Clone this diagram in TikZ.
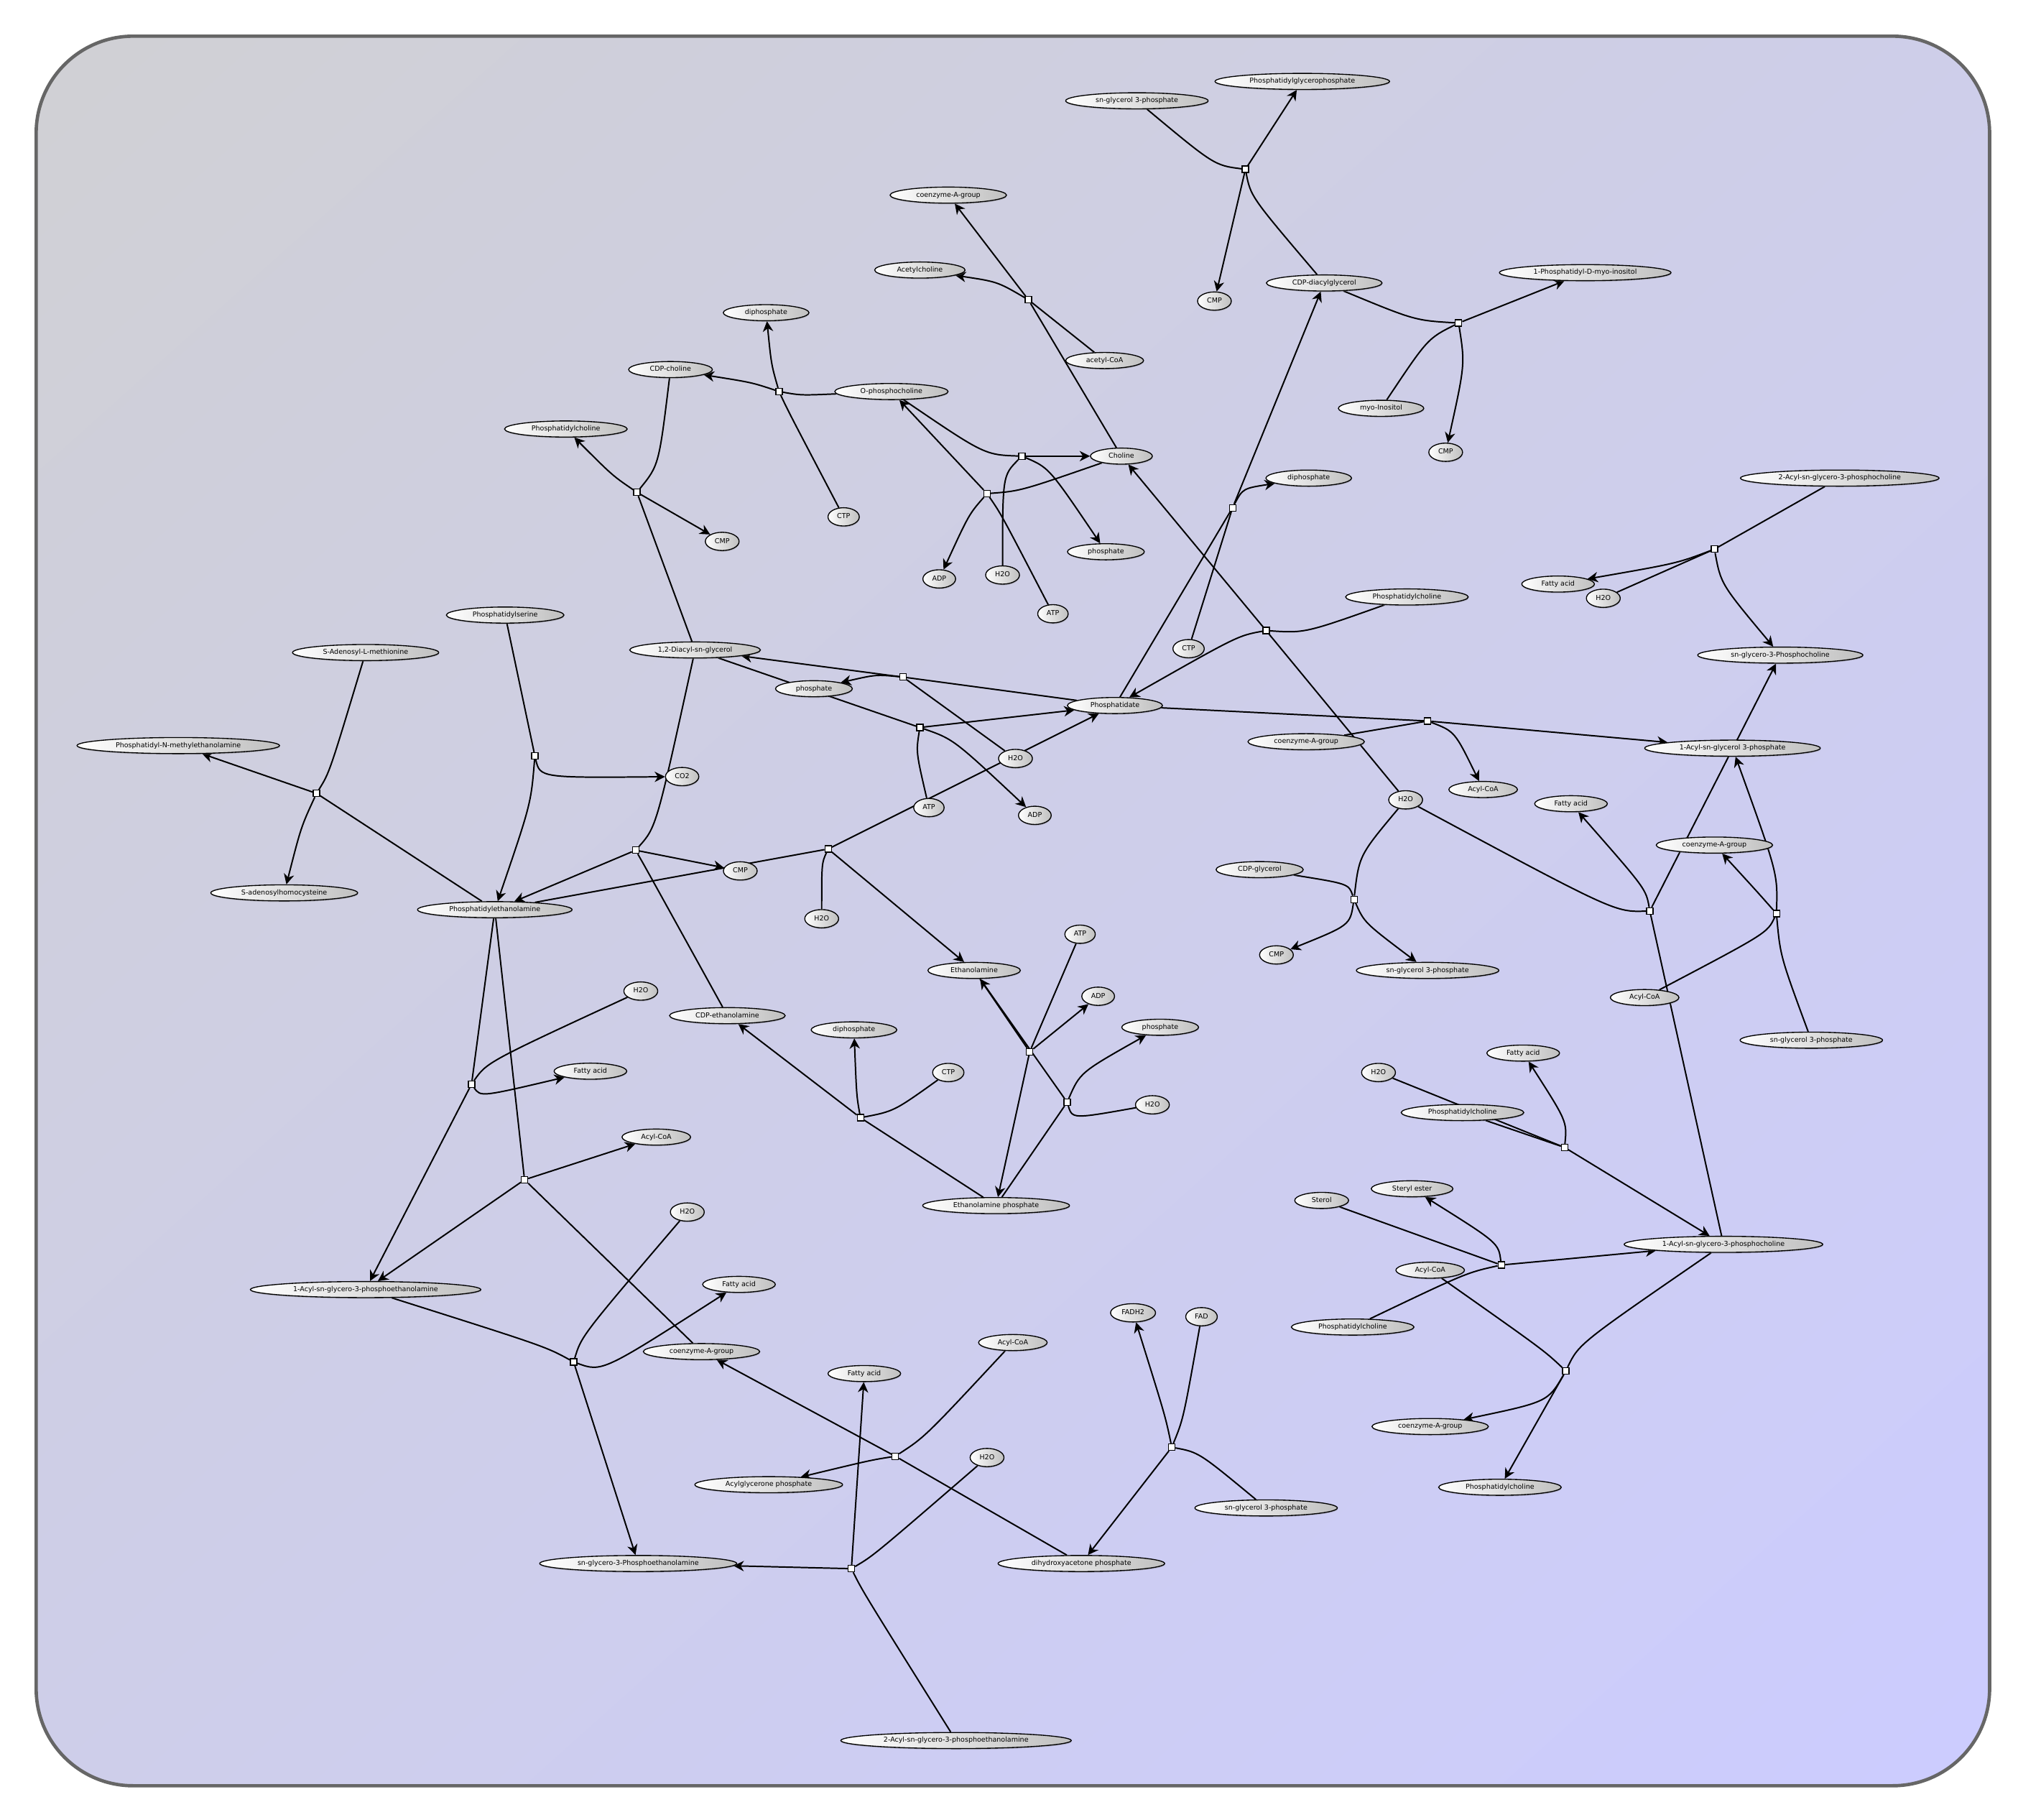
\documentclass[tikz,border=0pt]{standalone}
\usepackage{fontspec}
\newfontfamily\lblfont{DejaVu Sans}
\usetikzlibrary{arrows.meta,shapes.geometric,shadings,shadows}
\definecolor{fondoA}{RGB}{208,208,212}
\definecolor{fondoB}{RGB}{204,204,255}
\pgfdeclarelayer{fondo}
\pgfdeclarelayer{aristas}
\pgfsetlayers{fondo,aristas,main}
\tikzset{
  especie/.style={ellipse, draw=black, line width=0.75pt, left color=white, right color=black!25,
    inner xsep=7pt, inner ysep=1.8pt, text height=4pt, text depth=1.2pt,
    drop shadow={shadow xshift=0.3pt, shadow yshift=-0.9pt, opacity=0.35},
    font=\lblfont\fontsize{5.3}{6}\selectfont},
  chica/.style={especie, inner xsep=3.5pt, inner ysep=2.4pt},
  reac/.style={rectangle, draw=black, fill=white, line width=0.7pt, minimum size=5pt, inner sep=0pt},
  linea/.style={line width=1.1pt},
  flecha/.style={line width=1.1pt, -{Stealth[length=8pt,width=8pt,inset=2.5pt]}}
}
\begin{document}
\begin{tikzpicture}[x=1pt,y=-1pt]
\useasboundingbox (0,0) rectangle (1562,1408);

% Fondo
\begin{pgfonlayer}{fondo}
\shade[upper left=fondoA, upper right=fondoA!50!fondoB, lower left=fondoA!50!fondoB,
  lower right=fondoB, rounded corners=75pt] (28,28) rectangle (1540,1382);
\draw[line width=2.6pt, black!60, rounded corners=75pt] (28,28) rectangle (1540,1382);
\end{pgfonlayer}

% Especies
\foreach \n/\x/\y/\t in {pgp/1008/63/Phosphatidylglycerophosphate, gtpA/880/78/sn-glycerol 3-phosphate,
  coaA/734/151/coenzyme-A-group, achol/712/209/Acetylcholine, cdpdag/1025/219/CDP-diacylglycerol,
  pino/1227/211/1-Phosphatidyl-D-myo-inositol, ppA/593/242/diphosphate, acoa/855/279/acetyl-CoA,
  cdpcho/519/286/CDP-choline, ophos/690/303/O-phosphocholine, myoino/1069/316/myo-Inositol,
  pcA/438/332/Phosphatidylcholine, chol/868/353/Choline, ppB/1013/370/diphosphate,
  acylgpcB/1424/370/2-Acyl-sn-glycero-3-phosphocholine, piA/856/427/phosphate, faA/1206/452/Fatty acid,
  pcB/1089/462/Phosphatidylcholine, pserine/391/476/Phosphatidylserine, dag/538/503/{1,2-Diacyl-sn-glycerol},
  sam/283/505/S-Adenosyl-L-methionine, gpc/1378/507/sn-glycero-3-Phosphocholine, piB/630/533/phosphate,
  pa/863/546/Phosphatidate, coaB/1011/574/coenzyme-A-group, pnme/138/577/Phosphatidyl-N-methylethanolamine,
  acylgp/1341/579/1-Acyl-sn-glycerol 3-phosphate, acoaA/1148/611/Acyl-CoA, faB/1216/622/Fatty acid,
  coaC/1327/654/coenzyme-A-group, cdpgly/975/673/CDP-glycerol, sah/220/691/S-adenosylhomocysteine,
  pe/383/704/Phosphatidylethanolamine, etn/754/751/Ethanolamine, gtpB/1105/751/sn-glycerol 3-phosphate,
  acoaB/1273/772/Acyl-CoA, cdpetn/563/786/CDP-ethanolamine, piC/898/795/phosphate, ppC/661/797/diphosphate,
  gtpC/1402/805/sn-glycerol 3-phosphate, faF/1179/815/Fatty acid, faC/457/829/Fatty acid,
  pcC/1132/861/Phosphatidylcholine, acoaC/508/880/Acyl-CoA, steryl/1093/920/Steryl ester,
  sterol/1023/929/Sterol, etnp/771/933/Ethanolamine phosphate,
  acylgpc/1334/963/1-Acyl-sn-glycero-3-phosphocholine, acoaE/1107/983/Acyl-CoA, faD/572/994/Fatty acid,
  acylgpe/283/998/1-Acyl-sn-glycero-3-phosphoethanolamine, pcD/1047/1027/Phosphatidylcholine,
  acoaD/784/1039/Acyl-CoA, coaD/543/1046/coenzyme-A-group, faE/669/1063/Fatty acid,
  coaE/1107/1104/coenzyme-A-group, acylgly/595/1149/Acylglycerone phosphate,
  pcE/1161/1151/Phosphatidylcholine, gtpD/980/1167/sn-glycerol 3-phosphate,
  gpe/494/1210/sn-glycero-3-Phosphoethanolamine, dhap/837/1210/dihydroxyacetone phosphate,
  acylgpeB/740/1347/2-Acyl-sn-glycero-3-phosphoethanolamine}
  \node[especie] (\n) at (\x,\y) {\t};

\foreach \n/\x/\y/\t in {cmpA/940/233/CMP, cmpB/1119/350/CMP, ctpA/653/400/CTP, cmpC/559/419/CMP,
  h2oA/776/445/H2O, adpA/727/448/ADP, h2oB/1241/463/H2O, atpA/815/475/ATP, ctpB/920/502/CTP,
  h2oD/786/587/H2O, co2/528/601/CO2, h2oC/1088/619/H2O, atpB/719/625/ATP, adpB/801/631/ADP,
  cmpD/573/674/CMP, h2oE/636/711/H2O, atpC/836/723/ATP, cmpE/988/739/CMP, h2oG/496/767/H2O,
  adpC/850/771/ADP, h2oJ/1067/830/H2O, ctpC/734/830/CTP, h2oF/892/855/H2O, h2oH/532/938/H2O,
  fadh/877/1016/FADH2, fad/930/1019/FAD, h2oI/764/1128/H2O}
  \node[chica] (\n) at (\x,\y) {\t};

% Reacciones
\foreach \n/\x/\y in {1/964/131, 2/796/232, 3/1129/250, 4/603/303, 5/493/381, 6/791/353, 7/764/382,
  8/954/393, 9/1327/425, 10/980/488, 11/699/524, 12/712/563, 13/1105/558, 14/1277/705, 15/1375/707,
  16/245/614, 17/414/585, 18/492/658, 19/641/657, 20/797/814, 21/826/853, 22/666/865, 23/365/839,
  24/406/913, 25/444/1054, 26/693/1127, 27/659/1214, 28/907/1120, 29/1211/888, 30/1162/979,
  31/1212/1061, 32/1048/696}
  \node[reac] (r\n) at (\x,\y) {};

% Sustratos
\begin{pgfonlayer}{aristas}
\foreach \a/\b in {acoa/r2, chol/r2, pa/r8, ctpB/r8, h2oB/r9, h2oC/r10, pa/r11, h2oD/r11, dag/r12,
  pa/r13, coaB/r13, acylgpc/r14, pe/r16, pserine/r17, pe/r19, atpC/r20, etn/r20, etnp/r21, etnp/r22,
  pe/r23, pe/r24, coaD/r24, dhap/r26, pcC/r29, h2oJ/r29, sterol/r30, dag/r5}
  \draw[linea] (\a) -- (\b);

\foreach \a/\cx/\cy/\b in {gtpA/940/128/r1, cdpdag/968/152/r1, cdpdag/1095/248/r3, myoino/1105/262/r3,
  ophos/620/306/r4, ctpA/610/318/r4, cdpcho/510/360/r5, ophos/762/352/r6, h2oA/776/368/r6,
  chol/790/380/r7, atpA/775/398/r7, acylgpcB/1350/412/r9, pcB/1010/490/r10, atpB/709/582/r12,
  h2oC/1250/706/r14, gtpC/1378/740/r15, acoaB/1368/722/r15, sam/255/598/r16, dag/508/640/r18,
  cdpetn/500/672/r18, h2oE/636/668/r19, h2oF/830/866/r21, ctpC/692/860/r22, h2oG/377/822/r23,
  acylgpe/422/1042/r25, h2oH/450/1034/r25, acoaD/716/1112/r26, acylgpeB/668/1232/r27,
  h2oI/676/1204/r27, fad/916/1098/r28, gtpD/928/1124/r28, pcD/1135/985/r30, acoaE/1195/1045/r31,
  acylgpc/1222/1040/r31, h2oC/1052/662/r32, cdpgly/1044/684/r32}
  \draw[linea] (\a) .. controls (\cx,\cy) .. (\b);

% Productos
\foreach \a/\b in {r1/pgp, r1/cmpA, r2/coaA, r3/pino, r5/cmpC, r6/chol, r7/ophos, r8/cdpdag, r10/chol,
  r11/dag, r12/pa, r13/acylgp, r14/gpc, r16/pnme, r18/pe, r18/cmpD, r19/etn, r19/pa, r20/etnp, r20/adpC,
  r21/etn, r22/cdpetn, r23/acylgpe, r24/acoaC, r24/acylgpe, r25/gpe, r26/coaD, r27/faE, r27/gpe,
  r28/dhap, r29/acylgpc, r30/acylgpc, r31/pcE}
  \draw[flecha] (\a) -- (\b);

\foreach \a/\cx/\cy/\b in {r2/772/218/achol, r3/1134/282/cmpB, r4/582/296/cdpcho, r4/597/282/ppA,
  r5/474/368/pcA, r6/812/362/piA, r7/750/398/adpA, r8/962/378/ppB, r9/1298/436/faA, r9/1332/452/gpc,
  r10/958/492/pa, r11/678/522/piB, r12/738/572/adpB, r13/1126/566/acoaA, r14/1274/688/faB,
  r15/1376/676/acylgp, r15/1360/690/coaC, r16/233/640/sah, r17/418/602/co2, r17/411/622/pe,
  r21/836/830/piC, r22/663/848/ppC, r23/372/849/faC, r25/466/1062/faD, r26/674/1130/acylgly,
  r28/902/1096/fadh, r29/1213/868/faF, r30/1160/962/steryl, r31/1198/1085/coaE,
  r32/1045/716/cmpE, r32/1056/714/gtpB}
  \draw[flecha] (\a) .. controls (\cx,\cy) .. (\b);
\end{pgfonlayer}
\end{tikzpicture}
\end{document}
